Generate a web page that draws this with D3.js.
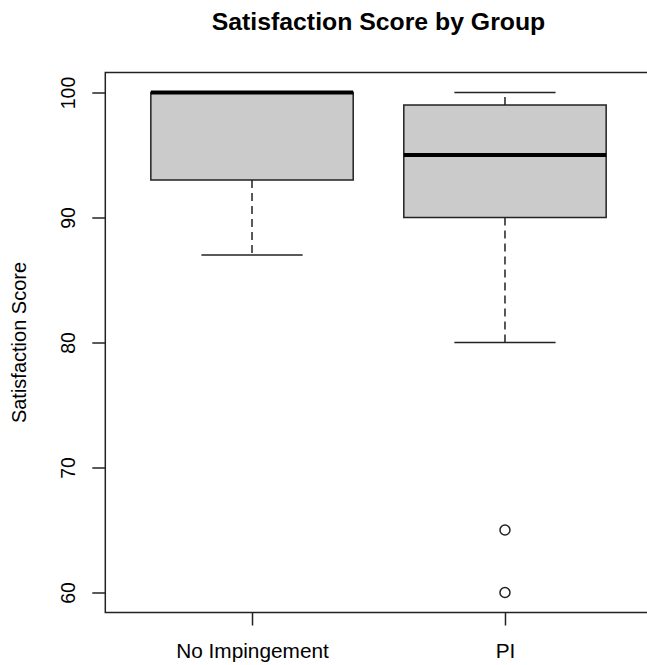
<!DOCTYPE html>
<html>
<head>
<meta charset="utf-8">
<script src="https://d3js.org/d3.v7.min.js"></script>
<style>
body { margin: 0; background: #fff; }
svg { display: block; font-family: "Liberation Sans", Arial, sans-serif; }
</style>
</head>
<body>
<svg id="svg" width="647" height="665"></svg>
<script>

// boxplot stats
let groups = ["No Impingement", "PI"];
let lowerWhisker = [87, 80];
let q1 = [93, 90];
let median = [100, 95];
let q3 = [100, 99];
let upperWhisker = [100, 100];
let outliers = [[], [65, 60]];
let yTicks = [60, 70, 80, 90, 100];

let svg = d3.select("#svg");
let ink = "#222";

// R style limits: 0.5..n+0.5 and 60..100, both padded 4%
let x = d3.scaleLinear().domain([0.42, 2.58]).range([105.3, 651.7]);
let y = d3.scaleLinear().domain([58.4, 101.6]).range([612.5, 72.5]);

let boxes = groups.map(function(g, i) {
  return { name: g, pos: i + 1, lo: lowerWhisker[i], q1: q1[i], med: median[i],
           q3: q3[i], hi: upperWhisker[i], out: outliers[i] };
});

let g = svg.selectAll(".box").data(boxes).enter().append("g").attr("class", "box");

// dashed whiskers
g.append("line")
  .attr("x1", d => x(d.pos)).attr("x2", d => x(d.pos))
  .attr("y1", d => y(d.q1)).attr("y2", d => y(d.lo))
  .attr("stroke", ink).attr("stroke-width", 1.5).attr("stroke-dasharray", "8,5");
g.append("line")
  .attr("x1", d => x(d.pos)).attr("x2", d => x(d.pos))
  .attr("y1", d => y(d.q3)).attr("y2", d => y(d.hi))
  .attr("stroke", ink).attr("stroke-width", 1.5).attr("stroke-dasharray", "8,5");

// staples
g.append("line")
  .attr("x1", d => x(d.pos - 0.2)).attr("x2", d => x(d.pos + 0.2))
  .attr("y1", d => y(d.lo)).attr("y2", d => y(d.lo))
  .attr("stroke", ink).attr("stroke-width", 1.5);
g.append("line")
  .attr("x1", d => x(d.pos - 0.2)).attr("x2", d => x(d.pos + 0.2))
  .attr("y1", d => y(d.hi)).attr("y2", d => y(d.hi))
  .attr("stroke", ink).attr("stroke-width", 1.5);

// box
g.append("rect")
  .attr("x", d => x(d.pos - 0.4)).attr("width", d => x(d.pos + 0.4) - x(d.pos - 0.4))
  .attr("y", d => y(d.q3)).attr("height", d => y(d.q1) - y(d.q3))
  .attr("fill", "#cbcbcb").attr("stroke", ink).attr("stroke-width", 1.5);

// median
g.append("line")
  .attr("x1", d => x(d.pos - 0.4)).attr("x2", d => x(d.pos + 0.4))
  .attr("y1", d => y(d.med)).attr("y2", d => y(d.med))
  .attr("stroke", "#000").attr("stroke-width", 4);

// outliers
g.selectAll("circle").data(d => d.out.map(v => ({ pos: d.pos, v: v }))).enter()
  .append("circle")
  .attr("cx", d => x(d.pos)).attr("cy", d => y(d.v)).attr("r", 5)
  .attr("fill", "none").attr("stroke", ink).attr("stroke-width", 1.5);

// plot frame
svg.append("rect")
  .attr("x", x.range()[0]).attr("y", y.range()[1])
  .attr("width", x.range()[1] - x.range()[0]).attr("height", y.range()[0] - y.range()[1])
  .attr("fill", "none").attr("stroke", ink).attr("stroke-width", 1.5);

// y axis
let yAxis = svg.append("g")
  .attr("transform", "translate(" + x.range()[0] + ",0)")
  .call(d3.axisLeft(y).tickValues(yTicks).tickSize(13).tickSizeOuter(0));
yAxis.select(".domain").remove();
yAxis.selectAll(".tick line").attr("stroke", ink).attr("stroke-width", 1.5);
yAxis.selectAll(".tick text")
  .attr("x", null).attr("dy", null)
  .attr("transform", "translate(-30.5,0) rotate(-90)")
  .attr("text-anchor", "middle")
  .attr("font-size", 19.5).attr("fill", "#000");

// x axis
let xAxis = svg.append("g")
  .attr("transform", "translate(0," + y.range()[0] + ")")
  .call(d3.axisBottom(x).tickValues([1, 2]).tickFormat(d => groups[d - 1]).tickSize(13).tickSizeOuter(0));
xAxis.select(".domain").remove();
xAxis.selectAll(".tick line").attr("stroke", ink).attr("stroke-width", 1.5);
xAxis.selectAll(".tick text")
  .attr("y", 45.5).attr("dy", null)
  .attr("font-size", 20.8).attr("fill", "#000");

// titles
svg.append("text")
  .attr("x", (x.range()[0] + x.range()[1]) / 2).attr("y", 30)
  .attr("text-anchor", "middle").attr("font-size", 24.8).attr("font-weight", "bold")
  .text("Satisfaction Score by Group");

svg.append("text")
  .attr("transform", "translate(26," + (y.range()[0] + y.range()[1]) / 2 + ") rotate(-90)")
  .attr("text-anchor", "middle").attr("font-size", 20)
  .text("Satisfaction Score");

</script>
</body>
</html>
